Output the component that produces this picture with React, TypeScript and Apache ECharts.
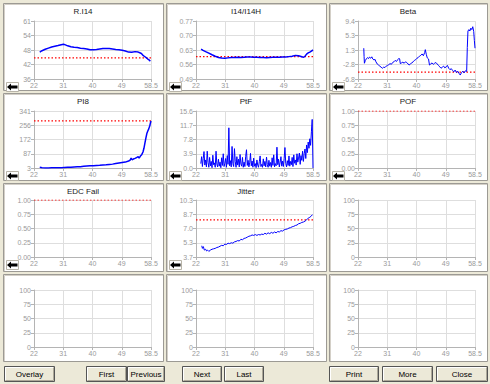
import React, { useEffect, useRef } from 'react';
import * as echarts from 'echarts';

// ---------- data ----------
const xTickLabels = ['22', '31', '40', '49', '58.5'];
const X_MIN = 22;
const X_MAX = 58.5;

const ri14: [number, number][] = [
  [23.8, 47.6], [24.5, 48.2], [25.5, 48.8], [26.5, 49.3], [27.5, 49.8], [28.5, 50.1], [29.5, 50.4],
  [30.5, 50.8], [31.2, 51.0], [31.8, 50.7], [32.5, 50.3], [33.5, 49.9], [34.5, 49.7], [35.5, 49.6],
  [36.5, 49.3], [37.5, 49.1], [38.5, 48.9], [39.5, 48.6], [40.5, 48.6], [41.5, 48.7], [42.5, 48.9],
  [43.5, 49.1], [44.5, 49.2], [45.5, 49.1], [46.5, 48.9], [47.5, 48.7], [48.5, 48.6], [49.5, 48.4],
  [50.5, 48.1], [51.5, 47.6], [52.5, 47.5], [53.5, 47.8], [54.5, 47.6], [55.0, 47.3], [55.5, 47.0],
  [56.0, 46.2], [56.5, 45.7], [57.0, 45.2], [57.5, 44.6], [58.0, 44.1], [58.3, 43.7],
];

const i14Ratio: [number, number][] = [
  [23.6, 0.634], [24.2, 0.628], [25, 0.622], [26, 0.615], [27, 0.607], [28, 0.6], [29, 0.594],
  [30, 0.591], [31, 0.59], [32, 0.592], [33, 0.594], [34, 0.594], [35, 0.595], [36, 0.594],
  [37, 0.595], [38, 0.596], [39, 0.596], [40, 0.595], [41, 0.595], [42, 0.594], [43, 0.594],
  [44, 0.593], [45, 0.594], [46, 0.595], [47, 0.595], [48, 0.595], [49, 0.596], [50, 0.596],
  [51, 0.598], [52, 0.6], [53, 0.604], [54, 0.602], [55, 0.597], [55.6, 0.595], [56, 0.6],
  [56.5, 0.61], [57, 0.616], [57.5, 0.62], [58, 0.625], [58.5, 0.63],
];

const beta: [number, number][] = [
  [23.8, 1.8], [23.9, -0.5], [24.0, -2.4], [24.3, -1.6], [24.6, -1.2], [25.0, -0.8], [25.3, -1.1],
  [25.6, -0.7], [26.0, -1.0], [26.3, -0.6], [26.6, -1.2], [27.0, -1.5], [27.3, -1.3], [27.6, -2.0],
  [28.0, -2.6], [28.4, -2.9], [28.8, -3.2], [29.2, -3.5], [29.6, -3.8], [30.0, -3.5], [30.4, -3.6],
  [30.8, -3.2], [31.2, -3.0], [31.6, -2.8], [32.0, -2.5], [32.4, -2.7], [32.8, -2.2], [33.2, -2.0],
  [33.6, -1.6], [34.0, -1.9], [34.4, -1.4], [34.8, -1.0], [35.0, -1.2], [35.2, -2.5], [35.6, -2.3],
  [36.0, -2.1], [36.4, -2.4], [36.8, -2.0], [37.2, -2.2], [37.6, -2.6], [38.0, -2.9], [38.4, -2.5],
  [38.8, -2.3], [39.2, -2.0], [39.6, -1.6], [40.0, -1.4], [40.4, -1.0], [40.8, -0.8], [41.2, -0.4],
  [41.6, -0.2], [42.0, 0.2], [42.4, -0.3], [42.8, 0.6], [43.0, 1.4], [43.3, 0.1], [43.6, -0.9],
  [44.0, -1.2], [44.3, -2.9], [44.7, -2.6], [45.1, -2.3], [45.5, -2.7], [45.9, -2.4], [46.3, -2.2],
  [46.7, -2.6], [47.1, -3.0], [47.5, -3.4], [47.9, -3.8], [48.3, -3.5], [48.7, -3.2], [49.1, -3.7],
  [49.5, -3.4], [49.9, -3.0], [50.3, -3.8], [50.7, -4.2], [51.1, -3.9], [51.5, -4.4], [51.9, -4.8],
  [52.3, -4.3], [52.7, -5.0], [53.1, -4.6], [53.5, -5.2], [53.9, -5.7], [54.3, -5.0], [54.7, -4.6],
  [55.1, -5.1], [55.5, -4.5], [55.9, -4.7], [56.1, 2.0], [56.3, 6.6], [56.6, 7.0], [56.9, 6.6],
  [57.2, 7.4], [57.5, 7.0], [57.8, 7.8], [58.1, 6.5], [58.3, 4.0], [58.5, 1.8],
];

const pi8: [number, number][] = [
  [23.8, 7], [24.5, 4], [25.5, 3], [26.5, 3], [27.5, 4], [28.5, 4], [29.5, 5], [30.5, 5], [31.5, 6],
  [32.5, 7], [33.5, 8], [34.5, 9], [35.5, 10], [36.5, 11], [37.5, 13], [38.5, 15], [39.5, 16],
  [40.5, 17], [41.5, 18], [42.5, 19], [43.5, 21], [44.5, 22], [45.5, 24], [46.5, 26], [47.5, 29],
  [48.5, 32], [49.5, 35], [50.5, 38], [51.5, 44], [52.0, 50], [52.3, 62], [52.6, 52], [53.0, 56],
  [53.5, 60], [54.0, 65], [54.5, 70], [54.8, 62], [55.2, 74], [55.6, 82], [56.0, 98], [56.3, 120],
  [56.6, 150], [56.9, 180], [57.2, 207], [57.5, 222], [57.8, 235], [58.1, 252], [58.3, 268], [58.5, 282],
];

const PTF_START = 23.5;
const PTF_STEP = 0.25;
const ptfValues: number[] = [
  1.2, 3.1, 0.4, 2.6, 4.5, 0.8, 2.2,
  0.3, 4.6, 1.5, 0.2, 2.9, 0.6, 1.8, 0.1,
  3.5, 0.9, 1.4, 0.2, 4.6, 1.1, 0.3, 2.4,
  0.5, 1.6, 0.1, 2.8, 0.7, 3.9, 0.4, 1.3,
  2.6, 0.2, 3.4, 1.0, 11.0, 0.6, 2.0, 0.3,
  5.9, 1.2, 0.4, 5.3, 1.7, 0.2, 3.1, 0.8,
  2.4, 0.3, 3.7, 1.1, 0.5, 2.9, 0.2, 1.6,
  0.4, 3.2, 5.0, 0.7, 2.1, 0.3, 1.4, 4.0,
  0.6, 1.9, 0.2, 2.7, 0.5, 1.2, 0.1, 2.2,
  0.8, 0.2, 1.7, 3.3, 0.4, 1.0, 0.2, 2.5,
  0.6, 1.8, 0.3, 3.0, 0.9, 0.2, 2.1, 0.5,
  1.5, 0.2, 2.8, 0.7, 3.6, 0.3, 1.2, 0.6,
  5.7, 0.9, 2.4, 0.3, 1.6, 3.1, 0.5, 1.9,
  0.4, 2.6, 5.6, 1.2, 0.3, 2.0, 0.7, 3.3,
  0.5, 1.8, 0.9, 2.9, 0.4, 3.6, 1.3, 2.2,
  0.8, 3.9, 1.6, 2.7, 4.1, 1.0, 3.4, 2.1,
  4.6, 1.8, 3.9, 5.2, 2.6, 6.3, 4.2, 7.1,
  5.4, 8.0, 6.2, 9.9, 13.3, 0.0,
];

const jitter: [number, number][] = [
  [23.8, 5.0], [24.0, 4.7], [24.3, 4.9], [24.6, 4.5], [25.0, 4.6], [25.3, 4.4], [25.6, 4.5],
  [26.0, 4.35], [26.5, 4.5], [27.0, 4.6], [27.5, 4.65], [28.0, 4.7], [28.5, 4.8], [29.0, 4.85],
  [29.5, 4.95], [30.0, 5.05], [30.5, 5.0], [31.0, 5.2], [31.5, 5.15], [32.0, 5.3], [32.5, 5.25],
  [33.0, 5.35], [33.5, 5.3], [34.0, 5.45], [34.5, 5.5], [35.0, 5.6], [35.5, 5.55], [36.0, 5.75],
  [36.5, 5.7], [37.0, 5.85], [37.5, 5.9], [38.0, 6.0], [38.5, 6.1], [39.0, 6.15], [39.5, 6.25],
  [40.0, 6.2], [40.5, 6.3], [41.0, 6.2], [41.5, 6.3], [42.0, 6.25], [42.5, 6.35], [43.0, 6.3],
  [43.5, 6.45], [44.0, 6.35], [44.5, 6.5], [45.0, 6.4], [45.5, 6.55], [46.0, 6.45], [46.5, 6.6],
  [47.0, 6.5], [47.5, 6.65], [48.0, 6.6], [48.5, 6.75], [49.0, 6.7], [49.5, 6.85], [50.0, 6.9],
  [50.5, 6.95], [51.0, 7.05], [51.5, 7.1], [52.0, 7.2], [52.5, 7.25], [53.0, 7.35], [53.5, 7.4],
  [54.0, 7.55], [54.5, 7.6], [55.0, 7.7], [55.5, 7.75], [56.0, 7.85], [56.5, 8.0], [57.0, 8.2],
  [57.5, 8.3], [58.0, 8.45], [58.3, 8.6],
];

const titles = ['R.I14', 'I14/I14H', 'Beta', 'PI8', 'PtF', 'POF', 'EDC Fail', 'Jitter', '', '', '', ''];
const yTickLabels: string[][] = [
  ['36', '42', '48', '54', '61'],
  ['0.49', '0.56', '0.63', '0.70', '0.77'],
  ['-6.8', '-2.8', '1.3', '5.3', '9.4'],
  ['3', '87', '172', '256', '341'],
  ['0.0', '3.9', '7.8', '11.7', '15.6'],
  ['0.00', '0.25', '0.50', '0.75', '1.00'],
  ['0.00', '0.25', '0.50', '0.75', '1.00'],
  ['3.7', '5.3', '7.0', '8.7', '10.3'],
  ['0', '25', '50', '75', '100'],
  ['0', '25', '50', '75', '100'],
  ['0', '25', '50', '75', '100'],
  ['0', '25', '50', '75', '100'],
];
const yRanges: [number, number][] = [
  [36, 61], [0.49, 0.77], [-6.8, 9.4], [3, 341], [0, 15.6], [0, 1], [0, 1], [3.7, 10.3],
  [0, 100], [0, 100], [0, 100], [0, 100],
];
const limits: (number | null)[] = [45.1, 0.598, -4.9, 282, null, 1, 1, 8.0, null, null, null, null];
const buttonLabels = ['Overlay', 'First', 'Previous', 'Next', 'Last', 'Print', 'More', 'Close'];

// ---------- layout ----------
const plotLeft = [34, 196, 358];
const plotTop = [21, 111, 200, 290];
const plotH = [58, 57, 57, 57];
const PLOT_W = 117;
const frameX = [3, 166, 329];
const frameW = [160, 160, 158];
const frameY = [3, 93, 183, 274];
const frameH = [87, 87, 88, 87];
const buttonBoxes: [number, number][] = [
  [4, 50], [86, 40], [127, 37], [182, 39], [224, 39], [329, 49], [382, 50], [436, 51],
];
const BUTTON_Y = 366;
const BUTTON_H = 15;

const X_INTERVAL = (X_MAX - X_MIN) / 4;
const FONT = 'Liberation Sans, Arial, sans-serif';
const NARROW = 'Liberation Sans Narrow, Liberation Sans, Arial, sans-serif';

function buildOption() {
  const seriesData: [number, number][][] = [
    ri14, i14Ratio, beta, pi8,
    ptfValues.map((v, i) => [PTF_START + i * PTF_STEP, v] as [number, number]),
    [], [], jitter, [], [], [], [],
  ];
  const grid: any[] = [];
  const xAxis: any[] = [];
  const yAxis: any[] = [];
  const series: any[] = [];
  const graphic: any[] = [];

  for (let i = 0; i < 12; i++) {
    const c = i % 3;
    const r = Math.floor(i / 3);
    const [ymin, ymax] = yRanges[i];
    const ystep = (ymax - ymin) / 4;
    const ny = (v: number) => (v - ymin) / ystep;
    const nx = (x: number) => x - X_MIN;

    grid.push({ left: plotLeft[c], top: plotTop[r], width: PLOT_W, height: plotH[r], show: false });
    const labels = yTickLabels[i];
    xAxis.push({
      type: 'value', gridIndex: i, min: 0, max: X_MAX - X_MIN, interval: X_INTERVAL,
      axisLine: { show: true, lineStyle: { color: '#b4b4b4', width: 1 } },
      axisTick: { show: true, length: 3, lineStyle: { color: '#b4b4b4' } },
      axisLabel: {
        fontSize: 7, color: '#9a9a9a', margin: 3, fontFamily: NARROW,
        formatter: (v: number) => xTickLabels[Math.round(v / X_INTERVAL)] ?? '',
      },
      splitLine: { show: true, lineStyle: { color: '#dedede', width: 1 } },
    });
    yAxis.push({
      type: 'value', gridIndex: i, min: 0, max: 4, interval: 1,
      axisLine: { show: true, lineStyle: { color: '#b4b4b4', width: 1 } },
      axisTick: { show: true, length: 3, lineStyle: { color: '#b4b4b4' } },
      axisLabel: {
        fontSize: 7, color: '#9a9a9a', margin: 3, fontFamily: NARROW,
        formatter: (v: number) => labels[Math.round(v)] ?? '',
      },
      splitLine: { show: true, lineStyle: { color: '#dedede', width: 1 } },
    });

    const lim = limits[i];
    if (lim !== null) {
      series.push({
        type: 'line', xAxisIndex: i, yAxisIndex: i, silent: true, showSymbol: false,
        data: [[0, ny(lim)], [X_MAX - X_MIN, ny(lim)]],
        lineStyle: { color: '#ff0000', width: 1.2, type: [1.5, 2] },
        z: 3,
      });
    }
    const d = seriesData[i];
    if (d.length) {
      const thick = i === 0 || i === 1 || i === 3;
      series.push({
        type: 'line', xAxisIndex: i, yAxisIndex: i, silent: true, showSymbol: false,
        data: d.map(([x, y]) => [nx(x), ny(y)]),
        lineStyle: { color: '#0000ff', width: thick ? 1.5 : 1 },
        z: 4,
      });
    }

    // panel frame
    graphic.push({
      type: 'rect', z: -10, silent: true,
      shape: { x: frameX[c] + 0.5, y: frameY[r] + 0.5, width: frameW[c], height: frameH[r] },
      style: { fill: '#ffffff', stroke: '#9c9a94', lineWidth: 1 },
    });
    graphic.push({
      type: 'polyline', z: -9, silent: true,
      shape: { points: [[frameX[c] + 1.5, frameY[r] + frameH[r]], [frameX[c] + 1.5, frameY[r] + 1.5], [frameX[c] + frameW[c], frameY[r] + 1.5]] },
      style: { stroke: '#d4d0c8', lineWidth: 1, fill: null },
    });
    if (titles[i]) {
      graphic.push({
        type: 'text', z: 5, silent: true,
        x: frameX[c] + frameW[c] / 2, y: frameY[r] + 8,
        style: { text: titles[i], fill: '#222222', font: `8px ${FONT}`, align: 'center', verticalAlign: 'middle' },
      });
      // back-arrow button
      const ax = frameX[c] + 3;
      const ay = plotTop[r] + plotH[r] + 3;
      graphic.push({
        type: 'rect', z: 5, silent: true,
        shape: { x: ax + 0.5, y: ay + 0.5, width: 12, height: 9 },
        style: { fill: '#ffffff', stroke: '#b8b4a8', lineWidth: 1 },
      });
      graphic.push({
        type: 'polygon', z: 6, silent: true,
        shape: { points: [[ax + 1, ay + 5], [ax + 5, ay + 1.5], [ax + 5, ay + 3.5], [ax + 11.5, ay + 3.5], [ax + 11.5, ay + 6.5], [ax + 5, ay + 6.5], [ax + 5, ay + 8.5]] },
        style: { fill: '#000000' },
      });
    }
  }

  // buttons
  buttonLabels.forEach((label, k) => {
    const [bx, bw] = buttonBoxes[k];
    graphic.push({
      type: 'rect', z: 5, silent: true,
      shape: { x: bx + 0.5, y: BUTTON_Y + 0.5, width: bw, height: BUTTON_H },
      style: { fill: '#ECE9D8', stroke: '#555555', lineWidth: 1 },
    });
    graphic.push({
      type: 'polyline', z: 6, silent: true,
      shape: { points: [[bx + 1.5, BUTTON_Y + BUTTON_H - 1], [bx + 1.5, BUTTON_Y + 1.5], [bx + bw - 1, BUTTON_Y + 1.5]] },
      style: { stroke: '#ffffff', lineWidth: 1, fill: null },
    });
    graphic.push({
      type: 'polyline', z: 6, silent: true,
      shape: { points: [[bx + 1.5, BUTTON_Y + BUTTON_H - 0.5], [bx + bw - 0.5, BUTTON_Y + BUTTON_H - 0.5], [bx + bw - 0.5, BUTTON_Y + 1.5]] },
      style: { stroke: '#aca899', lineWidth: 1, fill: null },
    });
    graphic.push({
      type: 'text', z: 7, silent: true,
      x: bx + bw / 2 + 0.5, y: BUTTON_Y + BUTTON_H / 2 + 1,
      style: { text: label, fill: '#000000', font: `8px ${FONT}`, align: 'center', verticalAlign: 'middle' },
    });
  });

  return {
    animation: false,
    backgroundColor: '#ECE9D8',
    grid, xAxis, yAxis, series, graphic,
  };
}

export default function App() {
  const ref = useRef<HTMLDivElement>(null);
  useEffect(() => {
    if (!ref.current) return;
    const chart = echarts.init(ref.current, null, { renderer: 'svg', width: 490, height: 384 });
    chart.setOption(buildOption() as any);
    return () => chart.dispose();
  }, []);
  return <div ref={ref} style={{ position: 'absolute', left: 0, top: 0, width: 490, height: 384 }} />;
}
